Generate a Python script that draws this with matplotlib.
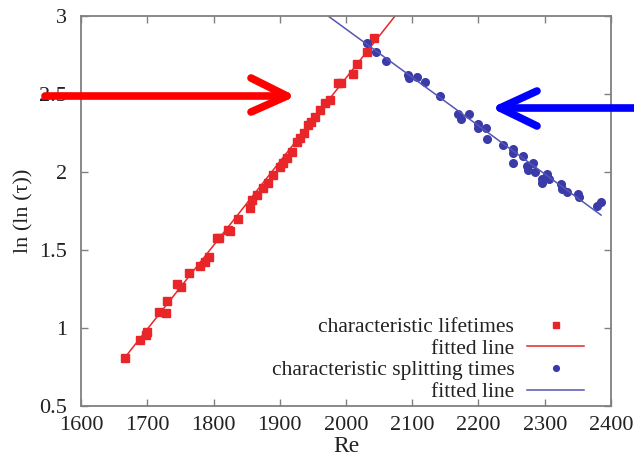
import matplotlib
matplotlib.use("Agg")
import matplotlib.pyplot as plt
import numpy as np
from matplotlib.lines import Line2D

plt.rcParams['font.family'] = ['Liberation Serif', 'DejaVu Serif']

# Data
life_re = [1666, 1689, 1698, 1700, 1718, 1728, 1730, 1745, 1751, 1763, 1780, 1787, 1793,
           1805, 1808, 1822, 1825, 1837, 1855, 1858, 1866, 1875, 1882, 1890, 1900, 1905,
           1911, 1918, 1926, 1930, 1936, 1942, 1947, 1953, 1961, 1968, 1976, 1988,
           1992, 2010, 2017, 2032, 2042]
life_val = [0.81, 0.92, 0.955, 0.975, 1.10, 1.096, 1.17, 1.28, 1.26, 1.35, 1.40, 1.42, 1.455,
            1.58, 1.575, 1.63, 1.62, 1.70, 1.77, 1.82, 1.85, 1.90, 1.93, 1.98, 2.03, 2.06,
            2.09, 2.13, 2.19, 2.22, 2.25, 2.30, 2.32, 2.35, 2.40, 2.44, 2.46, 2.57,
            2.57, 2.63, 2.69, 2.77, 2.86]

split_re = [2032, 2045, 2060, 2094, 2095, 2107, 2119, 2142, 2169, 2173, 2185, 2199, 2200,
            2211, 2213, 2237, 2252, 2252, 2252, 2267, 2273, 2274, 2283, 2286, 2296, 2296,
            2304, 2307, 2325, 2326, 2333, 2350, 2351, 2379, 2385]
split_val = [2.83, 2.77, 2.71, 2.62, 2.60, 2.61, 2.58, 2.49, 2.37, 2.34, 2.37, 2.31, 2.28,
             2.28, 2.21, 2.17, 2.15, 2.12, 2.06, 2.10, 2.04, 2.01, 2.06, 2.00, 1.955, 1.93,
             1.99, 1.955, 1.92, 1.89, 1.87, 1.86, 1.84, 1.78, 1.81]

# fitted lines: endpoints
fit1_re = [1666, 2074]
fit1_val = [0.81, 3.0]
fit2_re = [1973, 2385]
fit2_val = [3.0, 1.724]

xticks = [1600, 1700, 1800, 1900, 2000, 2100, 2200, 2300, 2400]
yticks = [0.5, 1, 1.5, 2, 2.5, 3]
ytick_labels = ['0.5', '1', '1.5', '2', '2.5', '3']

red = '#e8262a'
blue = '#3a3aa8'
blue_line = '#5555b8'
txt = '#222222'

fig = plt.figure(figsize=(6.34, 4.59), dpi=100)
ax = fig.add_axes([0.1278, 0.1155, 0.9637 - 0.1278, 0.9651 - 0.1155])

ax.plot(life_re, life_val, linestyle='none', marker='s', markersize=5.5, color=red,
        label='characteristic lifetimes')
ax.plot(fit1_re, fit1_val, color=red, lw=1.1, label='fitted line')
ax.plot(split_re, split_val, linestyle='none', marker='o', markersize=5.5, color=blue,
        label='characteristic splitting times')
ax.plot(fit2_re, fit2_val, color=blue_line, lw=1.1, label='fitted line')

ax.set_xlim(1600, 2400)
ax.set_ylim(0.5, 3)
ax.set_xticks(xticks)
ax.set_xticklabels([str(t) for t in xticks])
ax.set_yticks(yticks)
ax.set_yticklabels(ytick_labels)
ax.tick_params(direction='in', length=5, width=1, color='#808080', labelsize=16,
               top=True, right=True, labelcolor=txt)
ax.tick_params(axis='x', pad=7)
ax.tick_params(axis='y', pad=10)
for s in ax.spines.values():
    s.set_color('#808080')
    s.set_linewidth(1.3)

ax.set_xlabel('Re', fontsize=17, labelpad=1, color=txt)
ax.set_ylabel('ln (ln (\u03c4))', fontsize=16, labelpad=4, color=txt)

leg = ax.legend(loc='lower right', frameon=False, markerfirst=False, fontsize=15.5,
                handlelength=2.63, handletextpad=0.6, labelspacing=0.07,
                borderaxespad=0.0, bbox_to_anchor=(0.965, -0.012), markerscale=0.75)
for t in leg.get_texts():
    t.set_color(txt)

# Arrows in figure pixel coordinates
W, H = 634, 459
def fline(xs, ys, color):
    fig.add_artist(Line2D([x / W for x in xs], [1 - y / H for y in ys],
                          transform=fig.transFigure, color=color, lw=5.5,
                          solid_capstyle='round', solid_joinstyle='round'))

fline([45, 287], [96, 96], '#ff0000')
fline([251, 287, 251], [78, 96, 112], '#ff0000')
fline([634, 500], [108, 108], '#0000ff')
fline([537, 500, 537], [91, 108, 126], '#0000ff')

fig.savefig('out.png', dpi=100)
